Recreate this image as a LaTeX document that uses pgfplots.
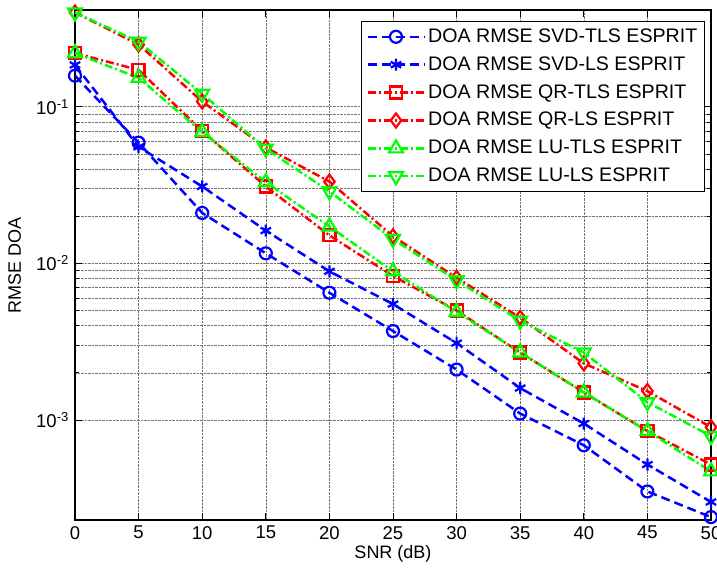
\documentclass[border=0pt]{standalone}
\usepackage{pgfplots}
\pgfplotsset{compat=1.18}
\usepackage{fontspec}
\setmainfont{Liberation Sans}
\definecolor{mblue}{rgb}{0,0,1}
\definecolor{mred}{rgb}{1,0,0}
\definecolor{mgreen}{rgb}{0,1,0}
\begin{document}
\fontsize{18pt}{21pt}\selectfont
\begin{tikzpicture}
\path[use as bounding box] (-75pt,-57pt) rectangle (642pt,520pt);
\begin{axis}[
  at={(0,0)}, anchor=south west,
  scale only axis, width=636pt, height=510pt,
  ymode=log,
  xmin=0, xmax=50, ymin=2.3e-4, ymax=0.415,
  xtick={0,5,...,50},
  ytick={1e-3,1e-2,1e-1},
  yticklabels={10\textsuperscript{-3},10\textsuperscript{-2},10\textsuperscript{-1}},
  /pgf/number format/assume math mode=true,
  tick label style={font=\fontsize{18.5pt}{21pt}\selectfont},
  label style={font=\fontsize{18pt}{21pt}\selectfont},
  xlabel={SNR (dB)}, ylabel={RMSE DOA},
  xlabel style={yshift=6pt},
  ylabel style={yshift=3pt},
  tick align=inside,
  major tick length=7pt, minor tick length=4pt,
  every tick/.style={black, line width=0.8pt},
  axis line style={line width=1.2pt},
  grid=both,
  major grid style={black!55, densely dotted, line width=0.6pt},
  minor grid style={black!55, densely dotted, line width=0.6pt},
  legend style={at={(0.99,0.978)}, anchor=north east, draw=black, line width=0.8pt,
    fill=white, font=\fontsize{19.6pt}{22pt}\selectfont, row sep=7.5pt,
    inner xsep=5pt, inner ysep=5pt},
  legend cell align=left,
  legend image code/.code={
    \draw[mark repeat=2, mark phase=2, #1] plot coordinates {(0pt,0pt) (28pt,0pt) (57pt,0pt)};
  },
]
\addplot[mblue, line width=2.5pt, dash pattern=on 9pt off 5pt, mark=o, mark size=6pt,
  mark options={solid, line width=2.2pt}] coordinates {
(0,0.158) (5,0.059) (10,0.021) (15,0.0116) (20,0.0065) (25,0.0037) (30,0.0021) (35,0.0011) (40,0.00069) (45,0.00035) (50,0.00024)};
\addlegendentry{DOA RMSE SVD-TLS ESPRIT}
\addplot[mblue, line width=2.5pt, dash pattern=on 9pt off 5pt, mark=asterisk, mark size=6pt,
  mark options={solid, line width=2.2pt}] coordinates {
(0,0.185) (5,0.0555) (10,0.031) (15,0.0162) (20,0.0089) (25,0.0055) (30,0.0031) (35,0.0016) (40,0.00095) (45,0.00052) (50,0.0003)};
\addlegendentry{DOA RMSE SVD-LS ESPRIT}
\addplot[mred, line width=2.5pt, dash pattern=on 8pt off 3pt on 2pt off 3pt, mark=square, mark size=6pt,
  mark options={solid, line width=2.2pt}] coordinates {
(0,0.22) (5,0.172) (10,0.070) (15,0.031) (20,0.0151) (25,0.0083) (30,0.0050) (35,0.0027) (40,0.0015) (45,0.00085) (50,0.00052)};
\addlegendentry{DOA RMSE QR-TLS ESPRIT}
\addplot[mred, line width=2.5pt, dash pattern=on 8pt off 3pt on 2pt off 3pt, mark=diamond, mark size=7pt,
  mark options={solid, line width=2.2pt}] coordinates {
(0,0.40) (5,0.25) (10,0.108) (15,0.055) (20,0.0333) (25,0.0149) (30,0.0081) (35,0.0045) (40,0.0023) (45,0.00153) (50,0.00090)};
\addlegendentry{DOA RMSE QR-LS ESPRIT}
\addplot[mgreen, line width=2.5pt, dash pattern=on 8pt off 3pt on 2pt off 3pt, mark=triangle, mark size=8pt,
  mark options={solid, line width=2.2pt}] coordinates {
(0,0.22) (5,0.153) (10,0.069) (15,0.033) (20,0.0172) (25,0.0089) (30,0.0049) (35,0.0027) (40,0.0015) (45,0.00085) (50,0.00047)};
\addlegendentry{DOA RMSE LU-TLS ESPRIT}
\addplot[mgreen, line width=2.5pt, dash pattern=on 8pt off 3pt on 2pt off 3pt, mark=triangle, mark size=8pt,
  mark options={solid, line width=2.2pt, rotate=180}] coordinates {
(0,0.40) (5,0.26) (10,0.121) (15,0.054) (20,0.0288) (25,0.0143) (30,0.0078) (35,0.0043) (40,0.0027) (45,0.0013) (50,0.00079)};
\addlegendentry{DOA RMSE LU-LS ESPRIT}
\end{axis}
\end{tikzpicture}
\end{document}
